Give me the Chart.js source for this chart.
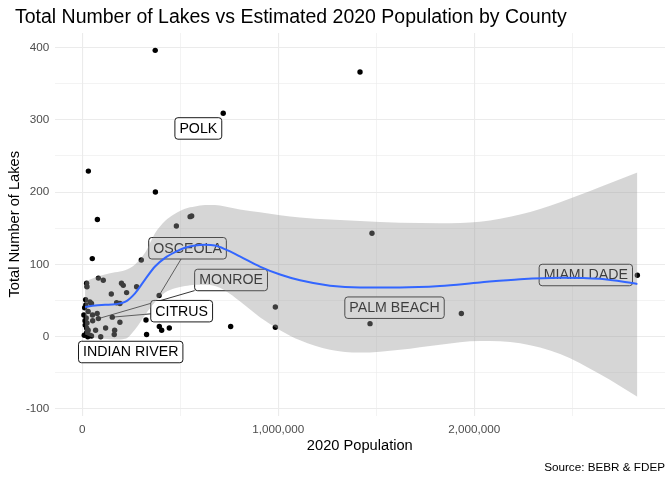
<!DOCTYPE html>
<html><head><meta charset="utf-8">
<script src="https://cdn.jsdelivr.net/npm/chart.js@4/dist/chart.umd.min.js"></script>
<style>html,body{margin:0;padding:0;background:#fff}#wrap{width:672px;height:480px;position:relative}canvas{display:block}</style>
</head><body><div id="wrap"><canvas id="c" width="672" height="480" style="width:672px;height:480px"></canvas></div>
<script>
// ---- data ----
const population = [372000,1417000,719000,31000,373000,77000,480000,550000,558000,1478000,51000,301000,82000,107000,22000,24000,200000,209000,277000,148000,226000,175000,192000,39000,47000,392000,2832000,985000,985000,757000,1468000,1934000,325000,328000,393000,405000,444000,30000,52000,76000,82000,153000,53000,192000,119000,165000,163000,22000,30000,22000,39000,47000,94000,17000,20000,24000,68000,12000,8000,15000,10000,28000,18000,14000,26000];
const lakes = [396,366,309,229,200,162,153,166,167,143,108,106,81,78,74,69,74,71,69,59,61,47,46,48,46,57,85,41,13,14,18,32,23,3,14,9,12,35,30,32,25,27,22,20,12,9,3,12,9,5,2,1,0,51,26,19,9,40,30,16,2,0,44,22,8];

const smoothPopulation = [14000,65000,116000,167000,218000,269000,320000,371000,422000,473000,524000,575000,626000,677000,728000,804000,906000,1009000,1111000,1264000,1417000,1621000,1825000,2029000,2234000,2438000,2642000,2832000];
const smoothFit   = [41,43,44,45,48,60,79,97,109,117,123,126,127,126,121,111,97,86,78,70.5,68,68,70,75,79.5,81.6,80,73];
const smoothUpper = [76,82,86,89,92,100,116,143,160,170,177,180,182,182,180,176,172,168,165,162,160,157.5,157,159,169,186,207,227];
const smoothLower = [3,-2,-3,-4,-3,10,30,48,61,67,70,72,72,70,64,49,27,9,-5,-18,-22,-18,-11,-6,-9,-24,-52,-83];

const labelCounties = ['POLK','OSCEOLA','MONROE','CITRUS','INDIAN RIVER','PALM BEACH','MIAMI DADE'];
const labelPointIndex = [2,25,40,41,46,30,26];

const xTickValues = [0,500000,1000000,1500000,2000000,2500000];
const yTickValues = [-100,-50,0,50,100,150,200,250,300,350,400];

// ---- label placement (layout, in data units) ----
const labelPlacement = [
  {pop:592000, lakes:288, seg:false},
  {pop:537000, lakes:122.3, seg:true},
  {pop:759000, lakes:78.4, seg:true},
  {pop:507000, lakes:35.3, seg:true},
  {pop:247000, lakes:-21.2, seg:false},
  {pop:1593000, lakes:40.1, seg:false},
  {pop:2569000, lakes:85.3, seg:false}
];

const FONT = '"Liberation Sans", Arial, Helvetica, sans-serif';
const fmt = v => v.toLocaleString('en-US');

const labelPlugin = {
  id: 'repelLabels',
  afterDatasetDraw(chart, args) {
    if (args.index !== 0) return;
    const ctx = chart.ctx, xs = chart.scales.x, ys = chart.scales.y;
    ctx.save();
    ctx.font = '14.2px ' + FONT;
    const boxes = labelCounties.map((name, i) => {
      const k = labelPointIndex[i];
      const px = xs.getPixelForValue(population[k]), py = ys.getPixelForValue(lakes[k]);
      const cx = xs.getPixelForValue(labelPlacement[i].pop), cy = ys.getPixelForValue(labelPlacement[i].lakes);
      const w = ctx.measureText(name).width + 9, h = 21.5;
      return {name, px, py, cx, cy, w, h, seg: labelPlacement[i].seg};
    });
    ctx.strokeStyle = '#000'; ctx.lineWidth = 0.8;
    boxes.forEach(b => {
      if (!b.seg) return;
      const dx = b.px - b.cx, dy = b.py - b.cy;
      const t = Math.min((b.w/2)/Math.abs(dx || 1e-9), (b.h/2)/Math.abs(dy || 1e-9));
      const sx = b.cx + dx*t, sy = b.cy + dy*t;
      const len = Math.hypot(b.px - sx, b.py - sy);
      const ex = b.px - (b.px - sx)/len*1.5, ey = b.py - (b.py - sy)/len*1.5;
      ctx.beginPath(); ctx.moveTo(sx, sy); ctx.lineTo(ex, ey); ctx.stroke();
    });
    boxes.forEach(b => {
      const x0 = b.cx - b.w/2, y0 = b.cy - b.h/2;
      ctx.beginPath();
      ctx.roundRect(x0, y0, b.w, b.h, 3);
      ctx.fillStyle = '#fff'; ctx.fill();
      ctx.lineWidth = 0.9; ctx.strokeStyle = '#000'; ctx.stroke();
      ctx.fillStyle = '#000'; ctx.textAlign = 'center'; ctx.textBaseline = 'middle';
      ctx.fillText(b.name, b.cx, b.cy + 0.5);
    });
    ctx.restore();
  }
};

const textPlugin = {
  id: 'plotText',
  afterDraw(chart) {
    const ctx = chart.ctx;
    ctx.save();
    ctx.fillStyle = '#000';
    ctx.textBaseline = 'alphabetic';
    ctx.textAlign = 'left';
    ctx.font = '19.5px ' + FONT;
    ctx.fillText('Total Number of Lakes vs Estimated 2020 Population by County', 15, 23);
    ctx.textAlign = 'right';
    ctx.font = '11.7px ' + FONT;
    ctx.fillText('Source: BEBR & FDEP', 665, 471);
    ctx.restore();
  }
};

const pts = population.map((p, i) => ({x: p, y: lakes[i]}));
const up = smoothPopulation.map((p, i) => ({x: p, y: smoothUpper[i]}));
const lo = smoothPopulation.map((p, i) => ({x: p, y: smoothLower[i]}));
const fit = smoothPopulation.map((p, i) => ({x: p, y: smoothFit[i]}));

new Chart(document.getElementById('c'), {
  type: 'scatter',
  data: {
    datasets: [
      {data: pts, pointRadius: 2.7, pointBackgroundColor: '#000', pointBorderWidth: 0, order: 3},
      {type: 'line', data: up, borderWidth: 0, pointRadius: 0, fill: '+1', backgroundColor: 'rgba(153,153,153,0.4)', cubicInterpolationMode: 'monotone', order: 2},
      {type: 'line', data: lo, borderWidth: 0, pointRadius: 0, fill: false, cubicInterpolationMode: 'monotone', order: 2},
      {type: 'line', data: fit, borderColor: '#3366FF', borderWidth: 2, pointRadius: 0, fill: false, cubicInterpolationMode: 'monotone', order: 1}
    ]
  },
  options: {
    responsive: false, animation: false, events: [],
    devicePixelRatio: 1,
    layout: {padding: {top: 33, right: 7, bottom: 0, left: 0}},
    plugins: {legend: {display: false}, tooltip: {enabled: false}, title: {display: false}},
    scales: {
      x: {
        type: 'linear', min: -141300, max: 2973000,
        afterBuildTicks: s => { s.ticks = xTickValues.map(v => ({value: v})); },
        afterFit: s => { s.height = 64.5; },
        ticks: {autoSkip: false, maxRotation: 0, padding: 7.5, color: '#4d4d4d', font: {family: FONT, size: 11.7},
          callback: v => (v % 1000000 === 0 ? fmt(v) : '')},
        grid: {drawTicks: false, color: '#ebebeb', lineWidth: c => (c.tick && c.tick.value % 1000000 === 0 ? 1.1 : 0.6)},
        border: {display: false},
        title: {display: true, text: '2020 Population', color: '#000', font: {family: FONT, size: 14.67}, padding: {top: 0, bottom: 24.8}}
      },
      y: {
        type: 'linear', min: -109, max: 420,
        afterBuildTicks: s => { s.ticks = yTickValues.map(v => ({value: v})); },
        afterFit: s => { s.width = 54.6; },
        ticks: {autoSkip: false, padding: 5.3, color: '#4d4d4d', font: {family: FONT, size: 11.7},
          callback: v => (v % 100 === 0 ? String(v) : '')},
        grid: {drawTicks: false, color: '#ebebeb', lineWidth: c => (c.tick && c.tick.value % 100 === 0 ? 1.1 : 0.6)},
        border: {display: false},
        title: {display: true, text: 'Total Number of Lakes', color: '#000', font: {family: FONT, size: 14.67}, padding: {top: 6.5, bottom: 0}}
      }
    }
  },
  plugins: [labelPlugin, textPlugin]
});
</script>
</body></html>
